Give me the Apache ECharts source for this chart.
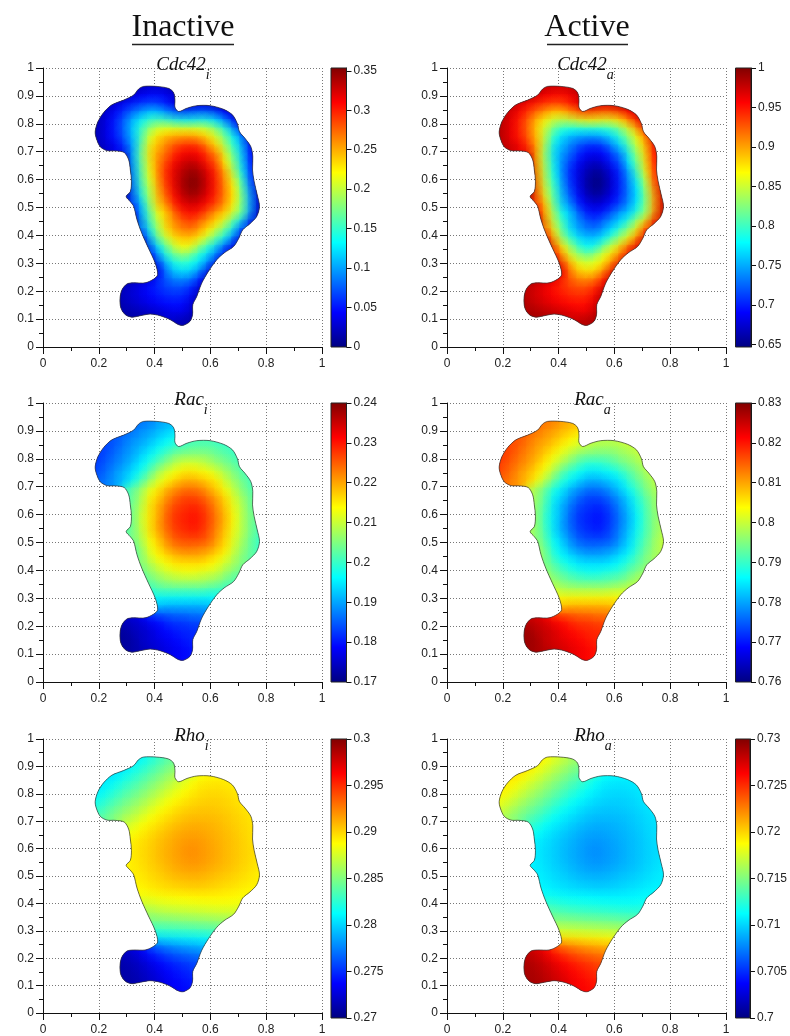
<!DOCTYPE html>
<html><head><meta charset="utf-8">
<style>html,body{margin:0;padding:0;background:#fff;overflow:hidden}#c{width:790px;height:1036px}</style>
<script src="https://cdn.jsdelivr.net/npm/echarts@6/dist/echarts.min.js"></script>
</head><body><div id="c"></div>
<script>
const gridX=[.18,.21,.24,.27,.30,.33,.36,.39,.42,.45,.48,.51,.54,.57,.60,.63,.66,.69,.72,.75,.78];
const gridY=[.92,.89,.86,.83,.80,.77,.74,.71,.68,.65,.62,.59,.56,.53,.50,.47,.44,.41,.38,.35,.32,.29,.26,.23,.20,.17,.14,.11,.08];
const rowStart=[5,2,1,1,0,0,0,1,4,4,4,4,4,4,5,5,5,6,6,6,7,7,7,4,3,3,3,4,10];
const cellOutline=[[.360,.934],[.408,.934],[.450,.927],[.468,.912],[.473,.885],[.473,.859],[.486,.844],[.516,.856],[.551,.865],[.599,.865],[.647,.852],[.679,.832],[.697,.800],[.704,.772],[.724,.748],[.745,.718],[.752,.683],[.751,.635],[.757,.593],[.768,.545],[.776,.504],[.766,.468],[.742,.442],[.716,.420],[.702,.390],[.683,.360],[.649,.337],[.623,.313],[.593,.271],[.569,.229],[.551,.181],[.537,.152],[.536,.116],[.527,.092],[.504,.078],[.486,.080],[.456,.098],[.420,.112],[.384,.118],[.348,.112],[.319,.107],[.295,.116],[.279,.140],[.276,.175],[.283,.205],[.301,.226],[.325,.230],[.366,.230],[.396,.243],[.411,.259],[.402,.301],[.378,.354],[.354,.408],[.337,.456],[.325,.504],[.313,.521],[.298,.539],[.313,.557],[.317,.593],[.313,.635],[.307,.671],[.291,.697],[.259,.703],[.229,.704],[.205,.718],[.191,.748],[.187,.772],[.197,.808],[.217,.840],[.247,.868],[.289,.885],[.325,.903],[.342,.924]];
const cdc42Inactive=[
[20,25,30,30,25,20],
[20,20,25,35,45,50,50,40,25],
[20,25,35,50,60,70,75,70,55,35,25,30,35,30,25,20],
[20,35,50,70,90,105,120,115,100,85,80,85,90,85,70,45,25],
[15,25,40,60,85,115,140,160,165,160,150,145,145,150,145,125,95,55,25],
[15,25,40,60,85,120,160,195,215,222,225,225,225,218,205,180,145,100,50],
[15,25,40,55,80,115,165,215,240,255,262,266,266,256,235,205,170,130,85,30],
[20,30,40,65,110,175,232,250,270,288,298,300,290,262,235,190,145,100,40],
[30,115,180,235,262,280,302,315,317,308,285,262,210,160,110,45],
[25,110,175,230,268,292,316,328,333,322,298,275,222,172,115,50],
[20,105,170,225,270,300,323,338,346,336,315,288,245,190,125,55],
[20,100,165,215,265,298,323,343,352,342,318,292,252,210,145,60],
[20,92,155,205,258,292,320,341,350,340,318,292,258,222,155,80,20],
[20,80,145,200,250,282,312,332,339,330,312,288,258,225,165,90,25],
[60,120,190,240,265,300,317,322,315,295,278,250,215,165,90,25],
[40,115,170,222,245,278,300,303,293,270,248,232,195,160,85,20],
[15,100,160,205,245,265,280,285,265,250,228,195,150,105,35],
[75,140,195,232,255,265,265,248,222,190,160,115,50],
[35,110,170,205,232,240,238,215,185,155,120,70,25],
[10,75,130,170,205,218,205,170,140,105,65,30],
[45,100,145,168,178,160,135,108,75,35],
[15,65,110,138,145,135,113,75,30],
[10,45,90,112,118,108,78,30],
[15,25,30,40,60,75,85,85,75,45,15],
[15,25,32,40,50,58,65,68,65,50,20],
[15,25,30,37,43,50,55,57,53,35,12],
[12,20,25,30,35,40,45,47,42,25],
[12,15,18,22,25,30,35,32,20],
[15,18,10]];
const cdc42Active=[
[980,975,970,970,975,980],
[980,980,975,965,955,950,950,960,975],
[980,975,965,950,940,930,925,930,945,965,975,970,965,970,975,980],
[980,965,950,930,910,895,880,885,900,915,920,915,910,915,930,955,975],
[985,975,960,940,915,885,860,840,835,840,850,855,855,850,855,875,905,945,975],
[985,975,960,940,915,880,840,805,785,778,775,775,775,782,795,820,855,900,950],
[985,975,960,945,920,885,835,785,760,745,738,734,734,744,765,795,830,870,915,970],
[980,970,960,935,890,825,768,750,730,712,702,700,710,738,765,810,855,900,960],
[970,885,820,765,738,720,698,685,683,692,715,738,790,840,890,955],
[975,890,825,770,732,708,684,672,667,678,702,725,778,828,885,950],
[980,895,830,775,730,700,677,662,654,664,685,712,755,810,875,945],
[980,900,835,785,735,702,677,657,648,658,682,708,748,790,855,940],
[980,908,845,795,742,708,680,659,650,660,682,708,742,778,845,920,980],
[980,920,855,800,750,718,688,668,661,670,688,712,742,775,835,910,975],
[940,880,810,760,735,700,683,678,685,705,722,750,785,835,910,975],
[960,885,830,778,755,722,700,697,707,730,752,768,805,840,915,980],
[985,900,840,795,755,735,720,715,735,750,772,805,850,895,965],
[925,860,805,768,745,735,735,752,778,810,840,885,950],
[965,890,830,795,768,760,762,785,815,845,880,930,975],
[990,925,870,830,795,782,795,830,860,895,935,970],
[955,900,855,832,822,840,865,892,925,965],
[985,935,890,862,855,865,887,925,970],
[990,955,910,888,882,892,922,970],
[985,975,970,960,940,925,915,915,925,955,985],
[985,975,968,960,950,942,935,932,935,950,980],
[985,975,970,963,957,950,945,943,947,965,988],
[988,980,975,970,965,960,955,953,958,975],
[988,985,982,978,975,970,965,968,980],
[985,982,990]];
const racInactive=[
[186,187,188,190,191,192],
[184,185,186,187,189,190,192,193,195],
[183,184,185,187,189,190,192,194,196,198,200,201,201,201,200,199],
[183,184,186,188,190,192,194,197,199,201,202,203,203,203,202,201,200],
[182,183,185,187,189,191,194,197,200,203,206,207,207,207,206,204,203,201,200],
[182,184,186,188,190,193,196,200,204,207,210,212,212,211,209,207,205,203,201],
[183,185,187,190,192,195,199,204,209,212,214,216,216,215,214,211,208,205,202,200],
[186,188,190,193,198,203,208,212,215,218,220,220,219,217,215,210,207,204,201],
[201,204,208,213,216,220,222,224,224,223,220,217,213,209,205,202],
[201,204,209,215,218,222,225,227,227,226,223,220,216,211,207,203],
[202,205,210,216,220,224,227,228,229,228,225,221,217,212,208,203],
[202,205,211,216,220,225,228,229,230,229,226,222,218,213,208,204],
[202,205,211,216,221,225,228,229,230,229,226,222,218,213,208,204,201],
[202,205,210,216,220,224,227,228,229,228,225,221,217,212,208,204,201],
[204,209,214,218,222,225,226,226,226,224,220,216,211,207,203,200],
[203,207,213,216,220,222,223,223,222,221,218,215,210,206,203,200],
[202,206,211,214,216,218,219,219,219,217,215,212,208,205,202],
[205,208,211,213,215,215,215,215,214,212,209,207,204],
[203,206,208,210,211,212,212,211,210,209,206,204,202],
[201,203,205,206,207,207,207,207,206,205,203,201],
[199,201,201,201,201,201,201,200,200,199],
[196,195,195,195,195,195,195,195,196],
[192,191,190,190,190,190,190,191],
[175,176,178,181,183,184,185,185,186,186,187],
[173,174,175,176,178,179,181,182,182,183,183],
[172,172,174,175,176,178,179,180,181,181,182],
[172,172,173,175,176,177,178,179,180,181],
[172,173,174,175,176,177,178,179,180],
[178,179,180]];
const racActive=[
[814,813,812,810,809,808],
[816,815,814,813,811,810,808,807,805],
[817,816,815,813,811,810,808,806,804,802,800,799,799,799,800,801],
[817,816,814,812,810,808,806,803,801,799,798,797,797,797,798,799,800],
[818,817,815,813,811,809,806,803,800,797,794,793,793,793,794,796,797,799,800],
[818,816,814,812,810,807,804,800,796,793,790,788,788,789,791,793,795,797,799],
[817,815,813,810,808,805,801,796,791,788,786,784,784,785,786,789,792,795,798,800],
[814,812,810,807,802,797,792,788,785,782,780,780,781,783,785,790,793,796,799],
[799,796,792,787,784,780,778,776,776,777,780,783,787,791,795,798],
[799,796,791,785,782,778,775,773,773,774,777,780,784,789,793,797],
[798,795,790,784,780,776,773,772,771,772,775,779,783,788,792,797],
[798,795,789,784,780,775,772,771,770,771,774,778,782,787,792,796],
[798,795,789,784,779,775,772,771,770,771,774,778,782,787,792,796,799],
[798,795,790,784,780,776,773,772,771,772,775,779,783,788,792,796,799],
[796,791,786,782,778,775,774,774,774,776,780,784,789,793,797,800],
[797,793,787,784,780,778,777,777,778,779,782,785,790,794,797,800],
[798,794,789,786,784,782,781,781,781,783,785,788,792,795,798],
[795,792,789,787,785,785,785,785,786,788,791,793,796],
[797,794,792,790,789,788,788,789,790,791,794,796,798],
[799,797,795,794,793,793,793,793,794,795,797,799],
[801,799,799,799,799,799,799,800,800,801],
[804,805,805,805,805,805,805,805,804],
[808,809,810,810,810,810,810,809],
[825,824,822,819,817,816,815,815,814,814,813],
[827,826,825,824,822,821,819,818,818,817,817],
[828,828,826,825,824,822,821,820,819,819,818],
[828,828,827,825,824,823,822,821,820,819],
[828,827,826,825,824,823,822,821,820],
[822,821,820]];
const rhoInactive=[
[2806,2814,2822,2830,2838,2845],
[2800,2800,2808,2815,2823,2831,2839,2847,2854],
[2805,2805,2809,2817,2824,2832,2840,2848,2856,2863,2871,2879,2887,2890,2890,2890],
[2807,2810,2818,2826,2833,2841,2849,2857,2865,2872,2880,2888,2893,2894,2895,2894,2892],
[2808,2810,2819,2827,2835,2842,2850,2858,2866,2874,2881,2888,2893,2897,2898,2898,2897,2895,2893],
[2815,2820,2828,2836,2844,2851,2859,2867,2875,2883,2889,2894,2898,2900,2901,2901,2900,2897,2894],
[2822,2828,2837,2845,2853,2860,2868,2876,2884,2890,2896,2900,2902,2904,2904,2903,2901,2899,2896,2893],
[2838,2846,2854,2862,2869,2877,2885,2892,2897,2901,2905,2907,2907,2907,2906,2904,2901,2898,2895],
[2871,2878,2886,2892,2897,2902,2906,2909,2911,2911,2910,2908,2905,2902,2899,2896],
[2880,2887,2893,2898,2903,2907,2911,2914,2915,2914,2912,2910,2907,2904,2900,2897],
[2888,2893,2897,2901,2906,2910,2914,2917,2918,2917,2914,2911,2908,2905,2901,2897],
[2890,2894,2898,2902,2907,2911,2915,2919,2921,2918,2915,2912,2908,2905,2901,2898],
[2890,2894,2898,2902,2907,2911,2915,2918,2920,2918,2915,2912,2908,2905,2901,2898,2894],
[2890,2893,2897,2901,2905,2909,2913,2916,2917,2916,2913,2910,2907,2904,2900,2897,2894],
[2892,2895,2899,2902,2906,2909,2911,2912,2911,2909,2906,2904,2901,2898,2895,2892],
[2890,2893,2896,2899,2901,2904,2905,2906,2906,2904,2902,2900,2898,2895,2893,2891],
[2887,2889,2892,2894,2896,2897,2898,2899,2899,2898,2897,2895,2893,2891,2889],
[2880,2882,2884,2885,2886,2887,2888,2889,2889,2889,2889,2888,2886],
[2868,2870,2873,2875,2876,2877,2878,2879,2880,2881,2881,2881,2879],
[2855,2857,2860,2861,2863,2864,2865,2866,2867,2868,2869,2869],
[2843,2844,2845,2846,2847,2848,2849,2850,2852,2853],
[2824,2825,2826,2827,2828,2829,2830,2831,2833],
[2797,2798,2800,2802,2804,2805,2807,2809],
[2722,2728,2738,2755,2765,2771,2776,2780,2783,2786,2789],
[2715,2718,2722,2730,2740,2748,2755,2760,2764,2767,2770],
[2712,2714,2718,2723,2730,2737,2743,2748,2752,2756,2760],
[2711,2712,2715,2720,2725,2731,2737,2742,2746,2750],
[2711,2713,2717,2722,2727,2733,2738,2742,2745],
[2735,2739,2742]];
const rhoActive=[
[7194,7186,7178,7170,7162,7155],
[7200,7200,7192,7185,7177,7169,7161,7153,7146],
[7195,7195,7191,7183,7176,7168,7160,7152,7144,7137,7129,7121,7113,7110,7110,7110],
[7193,7190,7182,7174,7167,7159,7151,7143,7135,7128,7120,7112,7107,7106,7105,7106,7108],
[7192,7190,7181,7173,7165,7158,7150,7142,7134,7126,7119,7112,7107,7103,7102,7102,7103,7105,7107],
[7185,7180,7172,7164,7156,7149,7141,7133,7125,7117,7111,7106,7102,7100,7099,7099,7100,7103,7106],
[7178,7172,7163,7155,7147,7140,7132,7124,7116,7110,7104,7100,7098,7096,7096,7097,7099,7101,7104,7107],
[7162,7154,7146,7138,7131,7123,7115,7108,7103,7099,7095,7093,7093,7093,7094,7096,7099,7102,7105],
[7129,7122,7114,7108,7103,7098,7094,7091,7089,7089,7090,7092,7095,7098,7101,7104],
[7120,7113,7107,7102,7097,7093,7089,7086,7085,7086,7088,7090,7093,7096,7100,7103],
[7112,7107,7103,7099,7094,7090,7086,7083,7082,7083,7086,7089,7092,7095,7099,7103],
[7110,7106,7102,7098,7093,7089,7085,7081,7079,7082,7085,7088,7092,7095,7099,7102],
[7110,7106,7102,7098,7093,7089,7085,7082,7080,7082,7085,7088,7092,7095,7099,7102,7106],
[7110,7107,7103,7099,7095,7091,7087,7084,7083,7084,7087,7090,7093,7096,7100,7103,7106],
[7108,7105,7101,7098,7094,7091,7089,7088,7089,7091,7094,7096,7099,7102,7105,7108],
[7110,7107,7104,7101,7099,7096,7095,7094,7094,7096,7098,7100,7102,7105,7107,7109],
[7113,7111,7108,7106,7104,7103,7102,7101,7101,7102,7103,7105,7107,7109,7111],
[7120,7118,7116,7115,7114,7113,7112,7111,7111,7111,7111,7112,7114],
[7132,7130,7127,7125,7124,7123,7122,7121,7120,7119,7119,7119,7121],
[7145,7143,7140,7139,7137,7136,7135,7134,7133,7132,7131,7131],
[7157,7156,7155,7154,7153,7152,7151,7150,7148,7147],
[7176,7175,7174,7173,7172,7171,7170,7169,7167],
[7203,7202,7200,7198,7196,7195,7193,7191],
[7278,7272,7262,7245,7235,7229,7224,7220,7217,7214,7211],
[7285,7282,7278,7270,7260,7252,7245,7240,7236,7233,7230],
[7288,7286,7282,7277,7270,7263,7257,7252,7248,7244,7240],
[7289,7288,7285,7280,7275,7269,7263,7258,7254,7250],
[7289,7287,7283,7278,7273,7267,7262,7258,7255],
[7265,7261,7258]];
const cdc42InactiveTicks=[0,.05,.1,.15,.2,.25,.3,.35];
const cdc42ActiveTicks=[.65,.7,.75,.8,.85,.9,.95,1];
const racInactiveTicks=[.17,.18,.19,.2,.21,.22,.23,.24];
const racActiveTicks=[.76,.77,.78,.79,.8,.81,.82,.83];
const rhoInactiveTicks=[.27,.275,.28,.285,.29,.295,.3];
const rhoActiveTicks=[.7,.705,.71,.715,.72,.725,.73];
const jet=['#000080','#0000ff','#0080ff','#00ffff','#80ff80','#ffff00','#ff8000','#ff0000','#800000'];
const panelLabels=[['Cdc42','i'],['Cdc42','a'],['Rac','i'],['Rac','a'],['Rho','i'],['Rho','a']];
const panelRows=[cdc42Inactive,cdc42Active,racInactive,racActive,rhoInactive,rhoActive];
const panelTicks=[cdc42InactiveTicks,cdc42ActiveTicks,racInactiveTicks,racActiveTicks,rhoInactiveTicks,rhoActiveTicks];
const panelUnits=[1000,1000,1000,1000,10000,10000];
const panelRanges=[[0,.3535],[.6465,1],[.17,.24],[.76,.83],[.27,.3],[.7,.73]];
const panelMinor=[5,5,2,2,5,5];
const titleCenters=[183,585.5,191,592.5,191.5,593];
const STEP=.03, lefts=[43,447], tops=[68,403,739], cbLefts=[331,735.5], SIZE=279;
const AXC='#111', FONT='"Liberation Sans",Arial,sans-serif', SERIF='"Liberation Serif",serif';
function cells(rows,unit){const out=[];rows.forEach((r,j)=>r.forEach((v,k)=>out.push([gridX[rowStart[j]+k],gridY[j],v/unit])));return out;}
const grid=[],xAxis=[],yAxis=[],extraY=[],series=[],visualMap=[],title=[];
panelRows.forEach((rows,p)=>{
  const col=p%2,row=(p-col)/2,[mn,mx]=panelRanges[p],ticks=panelTicks[p];
  const gi=grid.length;
  const dotted={show:true,lineStyle:{type:[1,2],color:'#777',width:1}};
  grid.push({left:lefts[col],top:tops[row],width:SIZE,height:SIZE});
  grid.push({left:cbLefts[col],top:tops[row],width:15.5,height:SIZE});
  xAxis.push({gridIndex:gi,type:'value',min:0,max:1,interval:.2,
    axisLine:{onZero:false,lineStyle:{color:AXC}},axisTick:{length:7,lineStyle:{color:AXC}},
    minorTick:{show:true,splitNumber:2,length:4,lineStyle:{color:AXC}},
    axisLabel:{fontFamily:FONT,fontSize:12,color:'#222',margin:11,showMinLabel:true,showMaxLabel:true},
    splitLine:dotted});
  yAxis.push({gridIndex:gi,type:'value',min:0,max:1,interval:.1,
    axisLine:{onZero:false,lineStyle:{color:AXC}},axisTick:{length:7,lineStyle:{color:AXC}},
    minorTick:{show:true,splitNumber:2,length:4,lineStyle:{color:AXC}},
    axisLabel:{fontFamily:FONT,fontSize:12,color:'#222',margin:9,padding:[4,0,0,0],formatter:v=>String(+v.toFixed(1))},
    splitLine:dotted});
  xAxis.push({gridIndex:gi+1,type:'value',min:0,max:1,show:false});
  yAxis.push({gridIndex:gi+1,type:'value',position:'right',min:mn,max:mx,
    axisLine:{show:true,onZero:false,lineStyle:{color:AXC}},
    axisTick:{show:true,length:5,lineStyle:{color:AXC},customValues:ticks},splitLine:{show:false},
    axisLabel:{fontFamily:FONT,fontSize:12,color:'#222',margin:7,showMinLabel:true,showMaxLabel:true,customValues:ticks,formatter:v=>String(+v.toFixed(3))}});
  const minor=[];
  for(let t=0;t<ticks.length-1;t++)for(let m=1;m<panelMinor[p];m++)minor.push(ticks[t]+(ticks[t+1]-ticks[t])*m/panelMinor[p]);
  extraY.push({gridIndex:gi+1,type:'value',position:'right',min:mn,max:mx,axisLine:{show:false},splitLine:{show:false},
    axisTick:{show:true,length:3,lineStyle:{color:AXC},customValues:minor},axisLabel:{show:false}});
  const si=series.length;
  series.push({type:'custom',xAxisIndex:gi,yAxisIndex:gi,coordinateSystem:'cartesian2d',silent:true,
    data:cells(rows,panelUnits[p]),dimensions:['x','y','v'],encode:{x:0,y:1},
    renderItem:(params,api)=>{
      const c=api.coord([api.value(0),api.value(1)]),s=api.size([STEP,STEP]),w=s[0],h=s[1],col=api.visual('color');
      const pts=cellOutline.map(q=>api.coord(q));
      const R=w*1.6;
      return {type:'group',clipPath:{type:'polygon',shape:{points:pts,smooth:.3}},children:[
        {type:'rect',z2:1,shape:{x:c[0]-w/2-.5,y:c[1]-h/2-.5,width:w+1,height:h+1},style:{fill:col}},
        {type:'circle',z2:2,shape:{cx:c[0],cy:c[1],r:R},style:{fill:new echarts.graphic.RadialGradient(.5,.5,.5,[
          {offset:0,color:echarts.color.modifyAlpha(col,.55)},{offset:.5,color:echarts.color.modifyAlpha(col,.3)},{offset:1,color:echarts.color.modifyAlpha(col,0)}])}}
      ]};
    }});
  visualMap.push({show:false,type:'continuous',seriesIndex:si,dimension:2,min:mn,max:mx,inRange:{color:jet}});
  series.push({type:'custom',xAxisIndex:gi,yAxisIndex:gi,coordinateSystem:'cartesian2d',silent:true,z:5,
    data:[[.5,.5]],encode:{x:0,y:1},
    renderItem:(params,api)=>({type:'polygon',shape:{points:cellOutline.map(q=>api.coord(q)),smooth:.3},style:{fill:'none',stroke:'#333',lineWidth:.7}})});
  series.push({type:'custom',xAxisIndex:gi+1,yAxisIndex:gi+1,coordinateSystem:'cartesian2d',silent:true,
    data:[[0,mn,1,mx]],encode:{x:[0,2],y:[1,3]},
    renderItem:(params,api)=>{
      const a=api.coord([api.value(0),api.value(3)]),b=api.coord([api.value(2),api.value(1)]);
      return {type:'rect',shape:{x:a[0],y:a[1],width:b[0]-a[0],height:b[1]-a[1]},
        style:{stroke:'#222',lineWidth:1,fill:new echarts.graphic.LinearGradient(0,1,0,0,jet.map((c,i)=>({offset:i/8,color:c})))}};
    }});
  title.push({text:'{a|'+panelLabels[p][0]+'}{b|'+panelLabels[p][1]+'}',left:titleCenters[p],top:tops[row]-13,textAlign:'center',padding:0,
    textStyle:{rich:{
      a:{fontFamily:SERIF,fontStyle:'italic',fontWeight:'normal',fontSize:19,color:'#111',lineHeight:27,verticalAlign:'top'},
      b:{fontFamily:SERIF,fontStyle:'italic',fontWeight:'normal',fontSize:14,color:'#111',lineHeight:14,verticalAlign:'bottom'}}}});
});
yAxis.push(...extraY);
title.push({text:'Inactive',left:183,top:11.5,textAlign:'center',padding:0,textStyle:{fontFamily:SERIF,fontWeight:'normal',fontSize:32,color:'#111'}});
title.push({text:'Active',left:587,top:11.5,textAlign:'center',padding:0,textStyle:{fontFamily:SERIF,fontWeight:'normal',fontSize:32,color:'#111'}});
const chart=echarts.init(document.getElementById('c'),null,{renderer:'canvas'});
chart.setOption({animation:false,backgroundColor:'#fff',title,grid,xAxis,yAxis,series,visualMap,
  graphic:[{type:'line',shape:{x1:132,y1:44.5,x2:234,y2:44.5},style:{stroke:'#222',lineWidth:1.6}},
           {type:'line',shape:{x1:547,y1:44.5,x2:628,y2:44.5},style:{stroke:'#222',lineWidth:1.6}}]});
</script></body></html>
